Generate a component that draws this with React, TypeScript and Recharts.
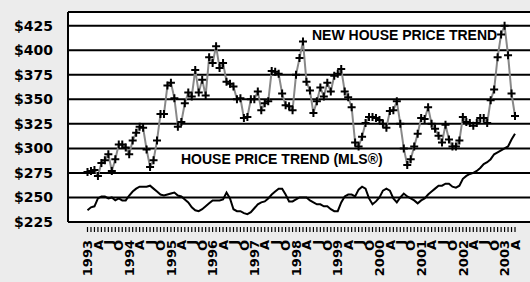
import React from 'react';
import { LineChart, Line, XAxis, YAxis, CartesianGrid, ReferenceLine, Customized } from 'recharts';

// Monthly series, Jan 1993 - Apr 2003
const years = [1993, 1994, 1995, 1996, 1997, 1998, 1999, 2000, 2001, 2002, 2003];
const quarterLetters: Record<number, string> = { 3: 'A', 6: 'J', 9: 'O' };

const newHousePrice = [
  276, 277, 278, 272, 285, 288, 294, 277, 289, 304, 304, 301, // 1993
  294, 308, 316, 322, 321, 299, 281, 288, 308, 335, 335, 364, // 1994
  367, 351, 322, 327, 346, 357, 353, 380, 357, 370, 354, 393, // 1995
  387, 404, 382, 387, 368, 366, 363, 350, 351, 331, 332, 350, // 1996
  350, 358, 339, 346, 348, 379, 378, 376, 356, 344, 343, 339, // 1997
  375, 392, 409, 368, 359, 336, 348, 362, 353, 367, 358, 374, // 1998
  376, 381, 358, 352, 342, 306, 302, 312, 326, 332, 332, 331, // 1999
  329, 325, 321, 338, 339, 348, 325, 300, 283, 289, 302, 315, // 2000
  331, 330, 342, 325, 320, 313, 306, 324, 309, 302, 302, 308, // 2001
  332, 327, 326, 323, 326, 331, 331, 326, 349, 360, 393, 416, // 2002
  425, 395, 356, 333, // 2003
];

const mlsPrice = [
  237, 240, 241, 249, 251, 251, 249, 250, 247, 249, 247, 247, // 1993
  252, 256, 259, 261, 261, 261, 262, 259, 256, 253, 252, 253, // 1994
  254, 255, 252, 251, 248, 245, 240, 237, 236, 238, 241, 244, // 1995
  247, 247, 247, 248, 255, 249, 238, 236, 236, 234, 233, 235, // 1996
  239, 243, 245, 246, 249, 253, 256, 259, 259, 253, 246, 246, // 1997
  248, 250, 250, 250, 247, 245, 243, 243, 241, 241, 238, 236, // 1998
  236, 245, 251, 253, 253, 251, 258, 261, 259, 249, 243, 246, // 1999
  250, 257, 259, 257, 249, 245, 250, 254, 251, 249, 247, 244, // 2000
  247, 249, 253, 256, 259, 262, 262, 264, 264, 261, 260, 262, // 2001
  269, 272, 274, 275, 277, 280, 284, 286, 289, 294, 296, 298, // 2002
  300, 302, 309, 315, // 2003
];

const yTicks = [225, 250, 275, 300, 325, 350, 375, 400, 425];

const data = newHousePrice.map((v, i) => ({
  month: `${years[Math.floor(i / 12)]}-${i % 12}`,
  newHouse: v,
  mls: mlsPrice[i],
}));

const MonthTick = (props: any) => {
  const { x, y, payload } = props;
  const [yr, m] = String(payload.value).split('-');
  const mi = Number(m);
  const label = mi === 0 ? yr : quarterLetters[mi] || '';
  const ty = y + 18;
  return (
    <g>
      <line x1={x} x2={x} y1={y + 5} y2={y + 10} stroke="#000" strokeWidth={1.2} />
      {label && (
        <text
          x={x}
          y={ty}
          dy="0.36em"
          textAnchor="end"
          transform={`rotate(-90, ${x}, ${ty})`}
          fontFamily="DejaVu Sans, sans-serif"
          fontWeight="bold"
          fontSize={13}
          fill="#000"
        >
          {label}
        </text>
      )}
    </g>
  );
};

const PlusDot = (props: any) => {
  const { cx, cy, index } = props;
  if (cx == null || cy == null) return <g key={`p-${index}`} />;
  return (
    <path
      key={`p-${index}`}
      d={`M${cx - 4},${cy}H${cx + 4}M${cx},${cy - 4}V${cy + 4}`}
      stroke="#000"
      strokeWidth={2}
      fill="none"
    />
  );
};

const Notes = () => (
  <g fontFamily="Liberation Sans, Arial, sans-serif" fontWeight="bold" fontSize={14} fill="#000">
    <text x={312} y={40}>NEW HOUSE PRICE TREND</text>
    <text x={181} y={163.5}>HOUSE PRICE TREND (MLS®)</text>
  </g>
);

export default function App() {
  return (
    <div
      style={{
        position: 'fixed',
        left: 0,
        top: 0,
        width: 530,
        height: 282,
        overflow: 'hidden',
        background: '#ececec',
      }}
    >
      <LineChart width={545} height={282} data={data} margin={{ top: 12, right: 0, bottom: 0, left: 8 }}>
        <CartesianGrid vertical={false} stroke="#000" strokeWidth={2} fill="#fff" fillOpacity={1} />
        <XAxis
          dataKey="month"
          type="category"
          interval={0}
          height={60}
          axisLine={false}
          tickLine={false}
          tickSize={0}
          tickMargin={0}
          padding={{ left: 19.5, right: 30 }}
          tick={<MonthTick />}
        />
        <YAxis
          type="number"
          domain={[225, 439]}
          ticks={yTicks}
          width={60}
          tickLine={false}
          tickSize={0}
          tickMargin={15}
          axisLine={{ stroke: '#000', strokeWidth: 2 }}
          tickFormatter={(v) => `$${v}`}
          tick={{ fill: '#000', fontSize: 14, fontWeight: 'bold', fontFamily: 'DejaVu Sans, sans-serif' }}
        />
        <ReferenceLine y={439} stroke="#000" strokeWidth={2} />
        <Line
          type="linear"
          dataKey="mls"
          stroke="#000"
          strokeWidth={2}
          dot={false}
          isAnimationActive={false}
        />
        <Line
          type="linear"
          dataKey="newHouse"
          stroke="#888"
          strokeWidth={2}
          dot={<PlusDot />}
          isAnimationActive={false}
        />
        <Customized component={Notes} />
      </LineChart>
    </div>
  );
}
